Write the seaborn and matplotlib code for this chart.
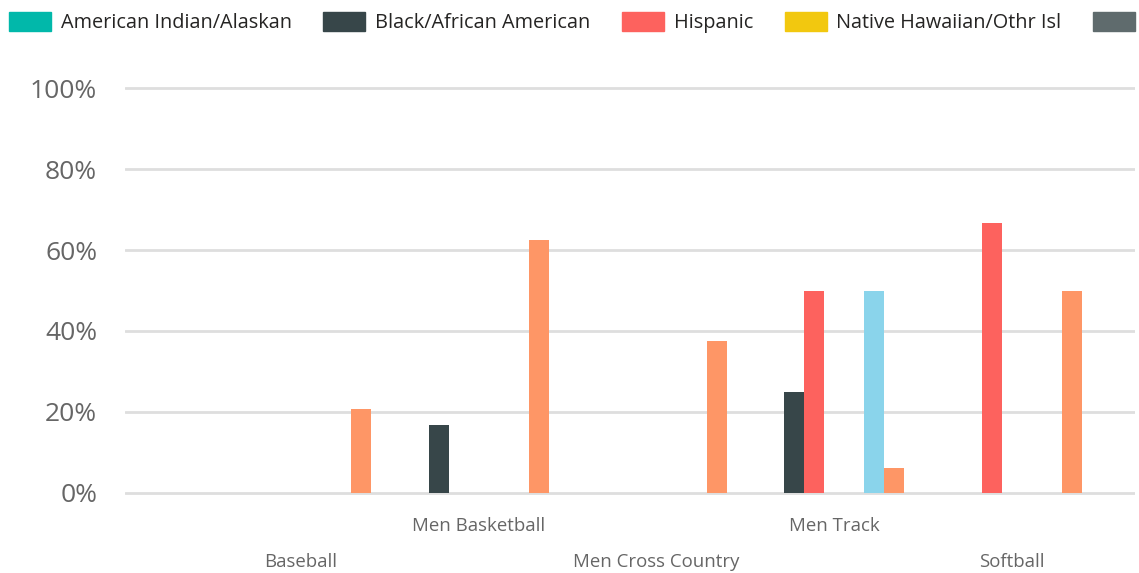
import matplotlib
matplotlib.use("Agg")
import matplotlib.pyplot as plt
import matplotlib.patches as mpatches
from matplotlib.ticker import PercentFormatter
import seaborn as sns
import pandas as pd

sports = ["Baseball", "Men Basketball", "Men Cross Country", "Men Track", "Softball"]
races = ["American Indian/Alaskan", "Black/African American", "Hispanic",
         "Native Hawaiian/Othr Isl", "Nonresident Alien", "Two or More Races", "White"]
colors = ["#01B8AA", "#374649", "#FD625E", "#F2C80F", "#5F6B6D", "#8AD4EB", "#FE9666"]

# share per race, one list per sport (same order as races)
baseball = [0, 0, 0, 0, 0, 0, 0.208]
men_basketball = [0, 0.167, 0, 0, 0, 0, 0.625]
men_cross_country = [0, 0, 0, 0, 0, 0, 0.375]
men_track = [0, 0.25, 0.50, 0, 0, 0.50, 0.0625]
softball = [0, 0, 0.667, 0, 0, 0, 0.50]

values = [baseball, men_basketball, men_cross_country, men_track, softball]
rows = []
for s, vals in zip(sports, values):
    for r, v in zip(races, vals):
        rows.append({"sport": s, "race": r, "share": v})
df = pd.DataFrame(rows)

sns.set_style("white")
plt.rcParams['font.family'] = ["Open Sans", "DejaVu Sans"]
txt = "#666666"

fig = plt.figure(figsize=(11.39, 5.73), dpi=100)
ax = fig.add_axes([125/1139, 1 - 495/573, 1010/1139, 409/573])

sns.barplot(data=df, x="sport", y="share", hue="race", order=sports,
            hue_order=races, palette=colors, width=0.787, linewidth=0,
            saturation=1, legend=False, ax=ax)

ax.set_ylim(-0.005, 1.005)
ax.set_xlim(-0.989, 4.69)
ax.set_yticks([0, 0.2, 0.4, 0.6, 0.8, 1.0])
ax.yaxis.set_major_formatter(PercentFormatter(1.0, decimals=0))
ax.yaxis.grid(True, color="#dedede", linewidth=2)
ax.set_axisbelow(True)
for sp in ax.spines.values():
    sp.set_visible(False)
ax.set_xlabel("")
ax.set_ylabel("")
ax.tick_params(axis="y", length=0, pad=20, labelsize=19, labelcolor=txt)
ax.tick_params(axis="x", length=0, labelsize=13.4, labelcolor=txt)
# staggered category labels
for i, t in enumerate(ax.xaxis.get_major_ticks()):
    t.set_pad(16 if i % 2 else 41.5)

handles = [mpatches.Patch(color=c, label=r) for r, c in zip(races, colors)]
fig.legend(handles=handles, loc="upper left", bbox_to_anchor=(-3/1139, 1.0),
           ncol=7, frameon=False, fontsize=14.3, labelcolor="#252423",
           handlelength=2.1, handleheight=1.1, handletextpad=0.5,
           columnspacing=1.6, borderaxespad=0.2)

fig.savefig("out.png", dpi=100)
